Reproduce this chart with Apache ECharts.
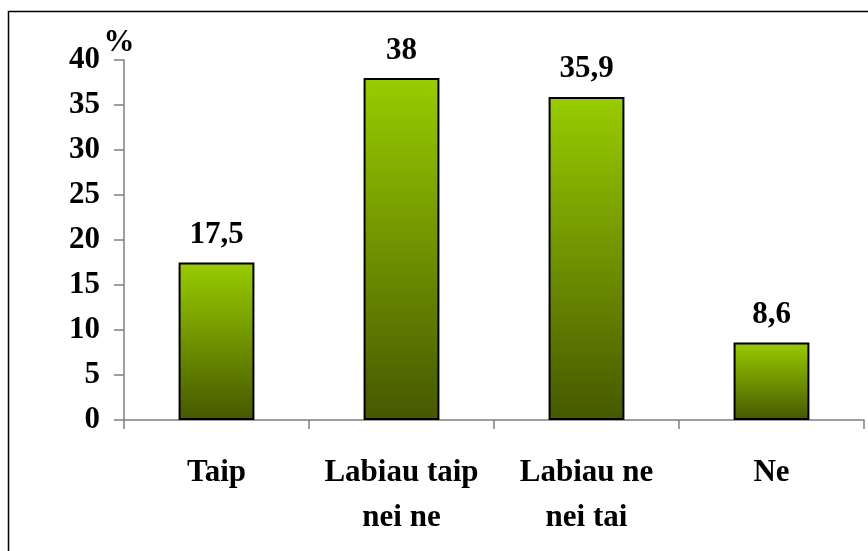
<!DOCTYPE html>
<html>
<head>
<meta charset="utf-8">
<script src="https://cdn.jsdelivr.net/npm/echarts@6/dist/echarts.min.js"></script>
<style>
  html, body { margin: 0; padding: 0; background: #fff; }
  #chart { width: 868px; height: 551px; }
</style>
</head>
<body>
<div id="chart"></div>
<script>
const categories = ['Taip', 'Labiau taip\nnei ne', 'Labiau ne\nnei tai', 'Ne'];
const values = [17.5, 38, 35.9, 8.6];
const yTicks = [0, 5, 10, 15, 20, 25, 30, 35, 40];

const font = 'Liberation Serif';
let myChart = echarts.init(document.getElementById('chart'));
let option = {
    animation: false,
    grid: { left: 124, right: 4, top: 60, bottom: 131 },
    graphic: [
        {
            type: 'rect',
            shape: { x: 8.5, y: 11.5, width: 900, height: 600 },
            style: { fill: 'none', stroke: '#000', lineWidth: 1.5 },
            silent: true
        }
    ],
    xAxis: {
        type: 'category',
        data: categories,
        axisLine: { lineStyle: { color: '#7f7f7f', width: 1.5 } },
        axisTick: { show: true, alignWithLabel: false, length: 9, lineStyle: { color: '#7f7f7f', width: 1.5 } },
        axisLabel: {
            margin: 30,
            fontFamily: font,
            fontWeight: 'bold',
            fontSize: 31,
            color: '#000',
            lineHeight: 45,
            interval: 0
        }
    },
    yAxis: {
        type: 'value',
        min: 0,
        max: 40,
        interval: 5,
        name: '%',
        nameLocation: 'end',
        nameGap: 2,
        nameMoveOverlap: false,
        nameTextStyle: { fontFamily: font, fontWeight: 'bold', fontSize: 31, color: '#000', padding: [0, 10, 0, 0] },
        splitLine: { show: false },
        axisLine: { show: true, lineStyle: { color: '#7f7f7f', width: 1.5 } },
        axisTick: { show: true, length: 10, lineStyle: { color: '#7f7f7f', width: 1.5 } },
        axisLabel: {
            margin: 24,
            fontFamily: font,
            fontWeight: 'bold',
            fontSize: 31,
            color: '#000',
            customValues: yTicks
        }
    },
    series: [
        {
            type: 'bar',
            data: values,
            barWidth: '41%',
            itemStyle: {
                color: new echarts.graphic.LinearGradient(0, 0, 0, 1, [
                    { offset: 0, color: '#99cc00' },
                    { offset: 1, color: '#465800' }
                ]),
                borderColor: '#000',
                borderWidth: 2
            },
            label: {
                show: true,
                position: 'top',
                distance: 12,
                fontFamily: font,
                fontWeight: 'bold',
                fontSize: 31,
                color: '#000',
                formatter: function (p) {
                    return String(p.value).replace('.', ',');
                }
            }
        }
    ]
};
myChart.setOption(option);

window.addEventListener('resize', function () {
    myChart.resize();
});
</script>
</body>
</html>
